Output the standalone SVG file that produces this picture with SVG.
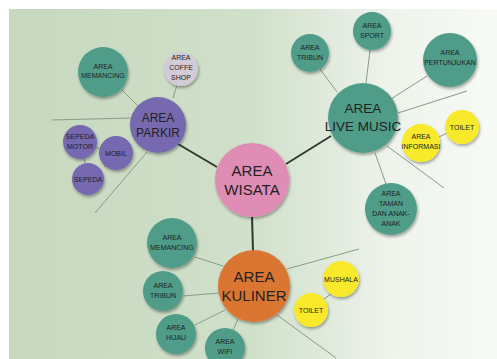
<svg xmlns="http://www.w3.org/2000/svg" width="497" height="359" viewBox="0 0 497 359">
<defs>
<linearGradient id="bg" x1="0" y1="0" x2="1" y2="0">
<stop offset="0" stop-color="#c7d8bf"/>
<stop offset="0.5" stop-color="#d0e0ca"/>
<stop offset="0.78" stop-color="#eef3eb"/>
<stop offset="1" stop-color="#f8faf6"/>
</linearGradient>
<filter id="sh" x="-30%" y="-30%" width="160%" height="160%">
<feGaussianBlur in="SourceAlpha" stdDeviation="1.5"/>
<feOffset dx="1" dy="1.5"/>
<feComponentTransfer><feFuncA type="linear" slope="0.35"/></feComponentTransfer>
<feMerge><feMergeNode/><feMergeNode in="SourceGraphic"/></feMerge>
</filter>
</defs>
<style>
.teal{fill:#4f9d89}
.purple{fill:#7669b0}
.pink{fill:#e08db6}
.orange{fill:#db7433}
.yellow{fill:#f8ea2a}
.gray{fill:#d3ccd6}
circle{filter:url(#sh)}
text{font-family:"Liberation Sans Narrow","Liberation Sans",Arial,sans-serif;fill:#222;text-anchor:middle}
.s{font-size:7px}
.m{font-size:12px}
.l{font-size:15px}
.lm{font-size:13.5px}
.thin{stroke:#8a9a86;stroke-width:1;fill:none}
.thick{stroke:#2f3a2f;stroke-width:2;fill:none}
</style>
<rect x="0" y="0" width="497" height="359" fill="#ffffff"/>
<rect x="9" y="9" width="488" height="350" fill="url(#bg)"/>
<g id="connectors">
<line class="thick" x1="178" y1="144" x2="217" y2="167"/>
<line class="thick" x1="286" y1="164" x2="331" y2="136"/>
<line class="thick" x1="252" y1="216" x2="253" y2="251"/>
<line class="thin" x1="52" y1="120" x2="131" y2="118"/>
<line class="thin" x1="147" y1="152" x2="95" y2="213"/>
<line class="thin" x1="122" y1="90" x2="138" y2="106"/>
<line class="thin" x1="177" y1="85" x2="173" y2="98"/>
<line class="thin" x1="96" y1="147" x2="100" y2="149"/>
<line class="thin" x1="84" y1="158" x2="85" y2="163"/>
<line class="thin" x1="104" y1="167" x2="107" y2="165"/>
<line class="thin" x1="337" y1="92" x2="320" y2="69"/>
<line class="thin" x1="366" y1="83" x2="370" y2="50"/>
<line class="thin" x1="391" y1="99" x2="427" y2="76"/>
<line class="thin" x1="398" y1="113" x2="467" y2="91"/>
<line class="thin" x1="387" y1="146" x2="444" y2="188"/>
<line class="thin" x1="375" y1="153" x2="386" y2="184"/>
<line class="thin" x1="439" y1="137" x2="447" y2="133"/>
<line class="thin" x1="195" y1="257" x2="223" y2="266"/>
<line class="thin" x1="183" y1="296" x2="219" y2="293"/>
<line class="thin" x1="195" y1="325" x2="225" y2="310"/>
<line class="thin" x1="233" y1="330" x2="238" y2="319"/>
<line class="thin" x1="287" y1="269" x2="359" y2="249"/>
<line class="thin" x1="277" y1="315" x2="336" y2="358"/>
<line class="thin" x1="324" y1="299" x2="331" y2="294"/>
</g>
<g id="wisata"><circle class="pink" cx="252" cy="180" r="37"/><text class="l" x="252" y="176">AREA</text><text class="l" x="252" y="195">WISATA</text></g>
<g id="parkir"><circle class="purple" cx="158" cy="125" r="28"/><text class="m" x="158" y="122">AREA</text><text class="m" x="158" y="137">PARKIR</text></g>
<g id="parkir-memancing"><circle class="teal" cx="103" cy="72" r="25"/><text class="s" x="103" y="69">AREA</text><text class="s" x="103" y="78">MEMANCING</text></g>
<g id="coffe-shop"><circle class="gray" cx="181" cy="69" r="17"/><text class="s" x="181" y="60">AREA</text><text class="s" x="181" y="70">COFFE</text><text class="s" x="181" y="80">SHOP</text></g>
<g id="sepeda-motor"><circle class="purple" cx="80" cy="142" r="17"/><text class="s" x="80" y="139">SEPEDA</text><text class="s" x="80" y="149">MOTOR</text></g>
<g id="mobil"><circle class="purple" cx="116" cy="153" r="17"/><text class="s" x="116" y="156">MOBIL</text></g>
<g id="sepeda"><circle class="purple" cx="88" cy="179" r="16"/><text class="s" x="88" y="182">SEPEDA</text></g>
<g id="live-music"><circle class="teal" cx="363" cy="118" r="35"/><text class="lm" x="363" y="113">AREA</text><text class="lm" x="363" y="131">LIVE MUSIC</text></g>
<g id="lm-tribun"><circle class="teal" cx="310" cy="53" r="19"/><text class="s" x="310" y="50">AREA</text><text class="s" x="310" y="60">TRIBUN</text></g>
<g id="sport"><circle class="teal" cx="372" cy="31" r="19"/><text class="s" x="372" y="28">AREA</text><text class="s" x="372" y="38">SPORT</text></g>
<g id="pertunjukan"><circle class="teal" cx="450" cy="60" r="27"/><text class="s" x="450" y="55">AREA</text><text class="s" x="450" y="65">PERTUNJUKAN</text></g>
<g id="informasi"><circle class="yellow" cx="421" cy="143" r="19"/><text class="s" x="421" y="139">AREA</text><text class="s" x="421" y="149">INFORMASI</text></g>
<g id="lm-toilet"><circle class="yellow" cx="462" cy="127" r="17"/><text class="s" x="462" y="130">TOILET</text></g>
<g id="taman"><circle class="teal" cx="391" cy="209" r="26"/><text class="s" x="391" y="196">AREA</text><text class="s" x="391" y="206">TAMAN</text><text class="s" x="391" y="216">DAN ANAK-</text><text class="s" x="391" y="226">ANAK</text></g>
<g id="kuliner"><circle class="orange" cx="254" cy="286" r="36"/><text class="l" x="254" y="282">AREA</text><text class="l" x="254" y="301">KULINER</text></g>
<g id="k-memancing"><circle class="teal" cx="172" cy="243" r="25"/><text class="s" x="172" y="240">AREA</text><text class="s" x="172" y="250">MEMANCING</text></g>
<g id="k-tribun"><circle class="teal" cx="163" cy="291" r="20"/><text class="s" x="163" y="288">AREA</text><text class="s" x="163" y="298">TRIBUN</text></g>
<g id="hijau"><circle class="teal" cx="176" cy="334" r="20"/><text class="s" x="176" y="330">AREA</text><text class="s" x="176" y="340">HIJAU</text></g>
<g id="wifi"><circle class="teal" cx="225" cy="348" r="20"/><text class="s" x="225" y="344">AREA</text><text class="s" x="225" y="354">WIFI</text></g>
<g id="mushala"><circle class="yellow" cx="341" cy="279" r="18"/><text class="s" x="341" y="282">MUSHALA</text></g>
<g id="k-toilet"><circle class="yellow" cx="311" cy="310" r="17"/><text class="s" x="311" y="313">TOILET</text></g>
</svg>
